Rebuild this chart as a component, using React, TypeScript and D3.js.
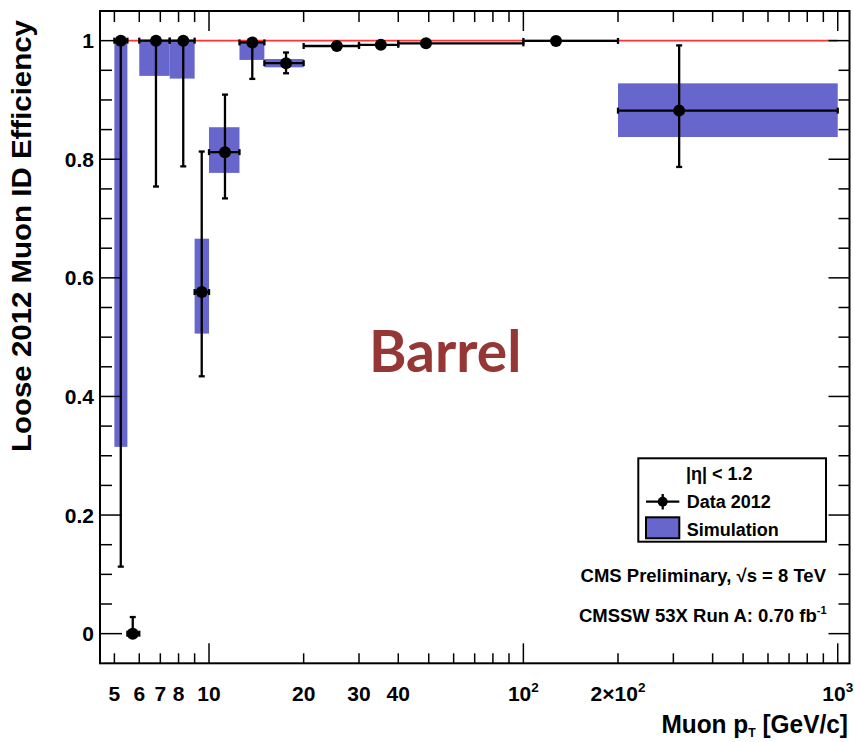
import React from 'react';
import * as d3 from 'd3';

// bin edges in muon pT [GeV/c]
const binEdges = [5, 5.5, 6, 7.5, 9, 10, 12.5, 15, 20, 30, 40, 100, 200, 1000];
// data points (Data 2012)
const dataX = [5.24, 5.72, 6.78, 8.28, 9.48, 11.24, 13.73, 17.58, 25.5, 35.2, 49, 127, 313];
const dataY = [1.0, 0.0, 1.0, 1.0, 0.576, 0.812, 0.997, 0.962, 0.991, 0.993, 0.9955, 0.9995, 0.882];
const dataLow = [0.113, 0.0, 0.754, 0.788, 0.434, 0.734, 0.9355, 0.945, 0.986, 0.989, 0.992, 0.998, 0.787];
const dataHigh = [1.0, 0.028, 1.0, 1.0, 0.813, 0.909, 1.0, 0.98, 0.996, 0.997, 0.998, 1.0, 0.992];
// simulation bands
const simLow: (number | null)[] = [0.315, null, 0.9406, 0.936, 0.506, 0.777, 0.9675, 0.955, null, null, null, null, 0.8375];
const simHigh: (number | null)[] = [1.0, null, 1.0, 1.0, 0.666, 0.854, 1.0, 0.969, null, null, null, null, 0.928];

const xTickValues = [5, 6, 7, 8, 10, 20, 30, 40, 100, 200, 1000];
const xTickBase = ['5', '6', '7', '8', '10', '20', '30', '40', '10', '2×10', '10'];
const xTickSup = ['', '', '', '', '', '', '', '', '2', '2', '3'];
const yTickValues = [0, 0.2, 0.4, 0.6, 0.8, 1];
const yTickLabels = ['0', '0.2', '0.4', '0.6', '0.8', '1'];

const W = 854;
const H = 742;
const FONT = "'Liberation Sans', Arial, Helvetica, sans-serif";

export default function App() {
  const left = 100, right = 849.5, top = 11, bottom = 663.3;
  const x = d3.scaleLog().domain([4.5, 1090]).range([left, right]);
  const y = d3.scaleLinear().domain([-0.05, 1.05]).range([bottom, top]);

  const xMinor: number[] = [];
  [1, 10, 100].forEach((d) => {
    for (let k = 2; k <= 9; k++) {
      const v = d * k;
      if (v >= 4.5 && v <= 1090 && v !== 10 && v !== 100 && v !== 1000) xMinor.push(v);
    }
  });
  const xMajor = [10, 100, 1000];
  const yAll = d3.range(0, 21).map((i) => Math.round(i * 5) / 100);
  const yMinor = yAll.filter((v) => Math.round(v * 100) % 20 !== 0);

  const capW = 3;
  const sw = 2.3;

  return (
    <svg width={W} height={H} style={{ position: 'absolute', left: 0, top: 0, background: '#fff' }} fontFamily={FONT}>
      <rect x={0} y={0} width={W} height={H} fill="#fff" />
      {binEdges.slice(0, -1).map((lo, i) => {
        const sl = simLow[i];
        const sh = simHigh[i];
        if (sl === null || sh === null) return null;
        return (
          <rect key={'sim' + i} x={x(lo)} y={y(sh)} width={x(binEdges[i + 1]) - x(lo)} height={y(sl) - y(sh)} fill="#6666cc" />
        );
      })}
      <line x1={x(5)} x2={x(1000)} y1={y(1)} y2={y(1)} stroke="#ff3333" strokeWidth={1.6} />
      {dataX.map((dx, i) => {
        const cx = x(dx);
        const cy = y(dataY[i]);
        const x0 = x(binEdges[i]);
        const x1 = x(binEdges[i + 1]);
        const yl = y(dataLow[i]);
        const yh = y(dataHigh[i]);
        return (
          <g key={'d' + i} stroke="#000" strokeWidth={sw}>
            <line x1={x0} x2={x1} y1={cy} y2={cy} />
            <line x1={x0} x2={x0} y1={cy - capW} y2={cy + capW} />
            <line x1={x1} x2={x1} y1={cy - capW} y2={cy + capW} />
            <line x1={cx} x2={cx} y1={yh} y2={yl} />
            {yl - cy > 6 && <line x1={cx - capW} x2={cx + capW} y1={yl} y2={yl} />}
            {cy - yh > 6 && <line x1={cx - capW} x2={cx + capW} y1={yh} y2={yh} />}
            <circle cx={cx} cy={cy} r={6} fill="#000" stroke="none" />
          </g>
        );
      })}
      <rect x={left} y={top} width={right - left} height={bottom - top} fill="none" stroke="#000" strokeWidth={2} />
      <g stroke="#000" strokeWidth={1.5}>
        {xMinor.map((v) => (
          <g key={'xm' + v}>
            <line x1={x(v)} x2={x(v)} y1={bottom} y2={bottom - 10} />
            <line x1={x(v)} x2={x(v)} y1={top} y2={top + 11} />
          </g>
        ))}
        {xMajor.map((v) => (
          <g key={'xM' + v}>
            <line x1={x(v)} x2={x(v)} y1={bottom} y2={bottom - 20} />
            <line x1={x(v)} x2={x(v)} y1={top} y2={top + 20} />
          </g>
        ))}
        {yMinor.map((v) => (
          <g key={'ym' + v}>
            <line x1={left} x2={left + 12} y1={y(v)} y2={y(v)} />
            <line x1={right} x2={right - 11} y1={y(v)} y2={y(v)} />
          </g>
        ))}
        {yTickValues.map((v) => (
          <g key={'yM' + v}>
            <line x1={left} x2={left + 22} y1={y(v)} y2={y(v)} />
            <line x1={right} x2={right - 21} y1={y(v)} y2={y(v)} />
          </g>
        ))}
      </g>
      {yTickValues.map((v, i) => (
        <text key={'yl' + v} x={94} y={y(v)} dy="0.36em" textAnchor="end" fontSize={21} fontWeight="bold" fill="#000">
          {yTickLabels[i]}
        </text>
      ))}
      {xTickValues.map((v, i) => (
        <text key={'xl' + v} x={x(v)} y={701} textAnchor="middle" fontSize={21} fontWeight="bold" fill="#000">
          <tspan>{xTickBase[i]}</tspan>
          {xTickSup[i] && (
            <tspan dy={-9} fontSize={13.5}>
              {xTickSup[i]}
            </tspan>
          )}
        </text>
      ))}
      <text transform="translate(848,733) scale(0.94,1)" textAnchor="end" fontSize={26} fontWeight="bold" fill="#000">
        <tspan>Muon p</tspan>
        <tspan dy={4} fontSize={13}>T</tspan>
        <tspan dy={-4}> [GeV/c]</tspan>
      </text>
      <text transform="translate(31,20) rotate(-90)" textAnchor="end" fontSize={27} fontWeight="bold" fill="#000" textLength={432} lengthAdjust="spacingAndGlyphs">
        Loose 2012 Muon ID Efficiency
      </text>
      <text x={369} y={371.7} fontSize={57} fontWeight="bold" fill="#953735" fontFamily="Lato, 'Open Sans', sans-serif">
        Barrel
      </text>
      <rect x={638.3} y={458.3} width={187.7} height={83.4} fill="#fff" stroke="#000" strokeWidth={2} />
      <text x={686} y={479.5} fontSize={18} fontWeight="bold" fill="#000">|η| &lt; 1.2</text>
      <g stroke="#000" strokeWidth={2.3}>
        <line x1={646} x2={679.3} y1={501.7} y2={501.7} />
        <line x1={662.7} x2={662.7} y1={494} y2={509.5} />
      </g>
      <circle cx={662.7} cy={501.7} r={5} fill="#000" />
      <text x={686.7} y={508} fontSize={18} fontWeight="bold" fill="#000">Data 2012</text>
      <rect x={646} y={517.3} width={33.3} height={21} fill="#6666cc" stroke="#000" strokeWidth={2} />
      <text x={686.7} y={535.8} fontSize={18} fontWeight="bold" fill="#000">Simulation</text>
      <text x={826} y={581.5} textAnchor="end" fontSize={18.5} fontWeight="bold" fill="#000">
        CMS Preliminary, √s = 8 TeV
      </text>
      <text x={826.5} y={621.5} textAnchor="end" fontSize={18.5} fontWeight="bold" fill="#000">
        <tspan>CMSSW 53X Run A: 0.70 fb</tspan>
        <tspan dy={-8} fontSize={11}>-1</tspan>
      </text>
    </svg>
  );
}
